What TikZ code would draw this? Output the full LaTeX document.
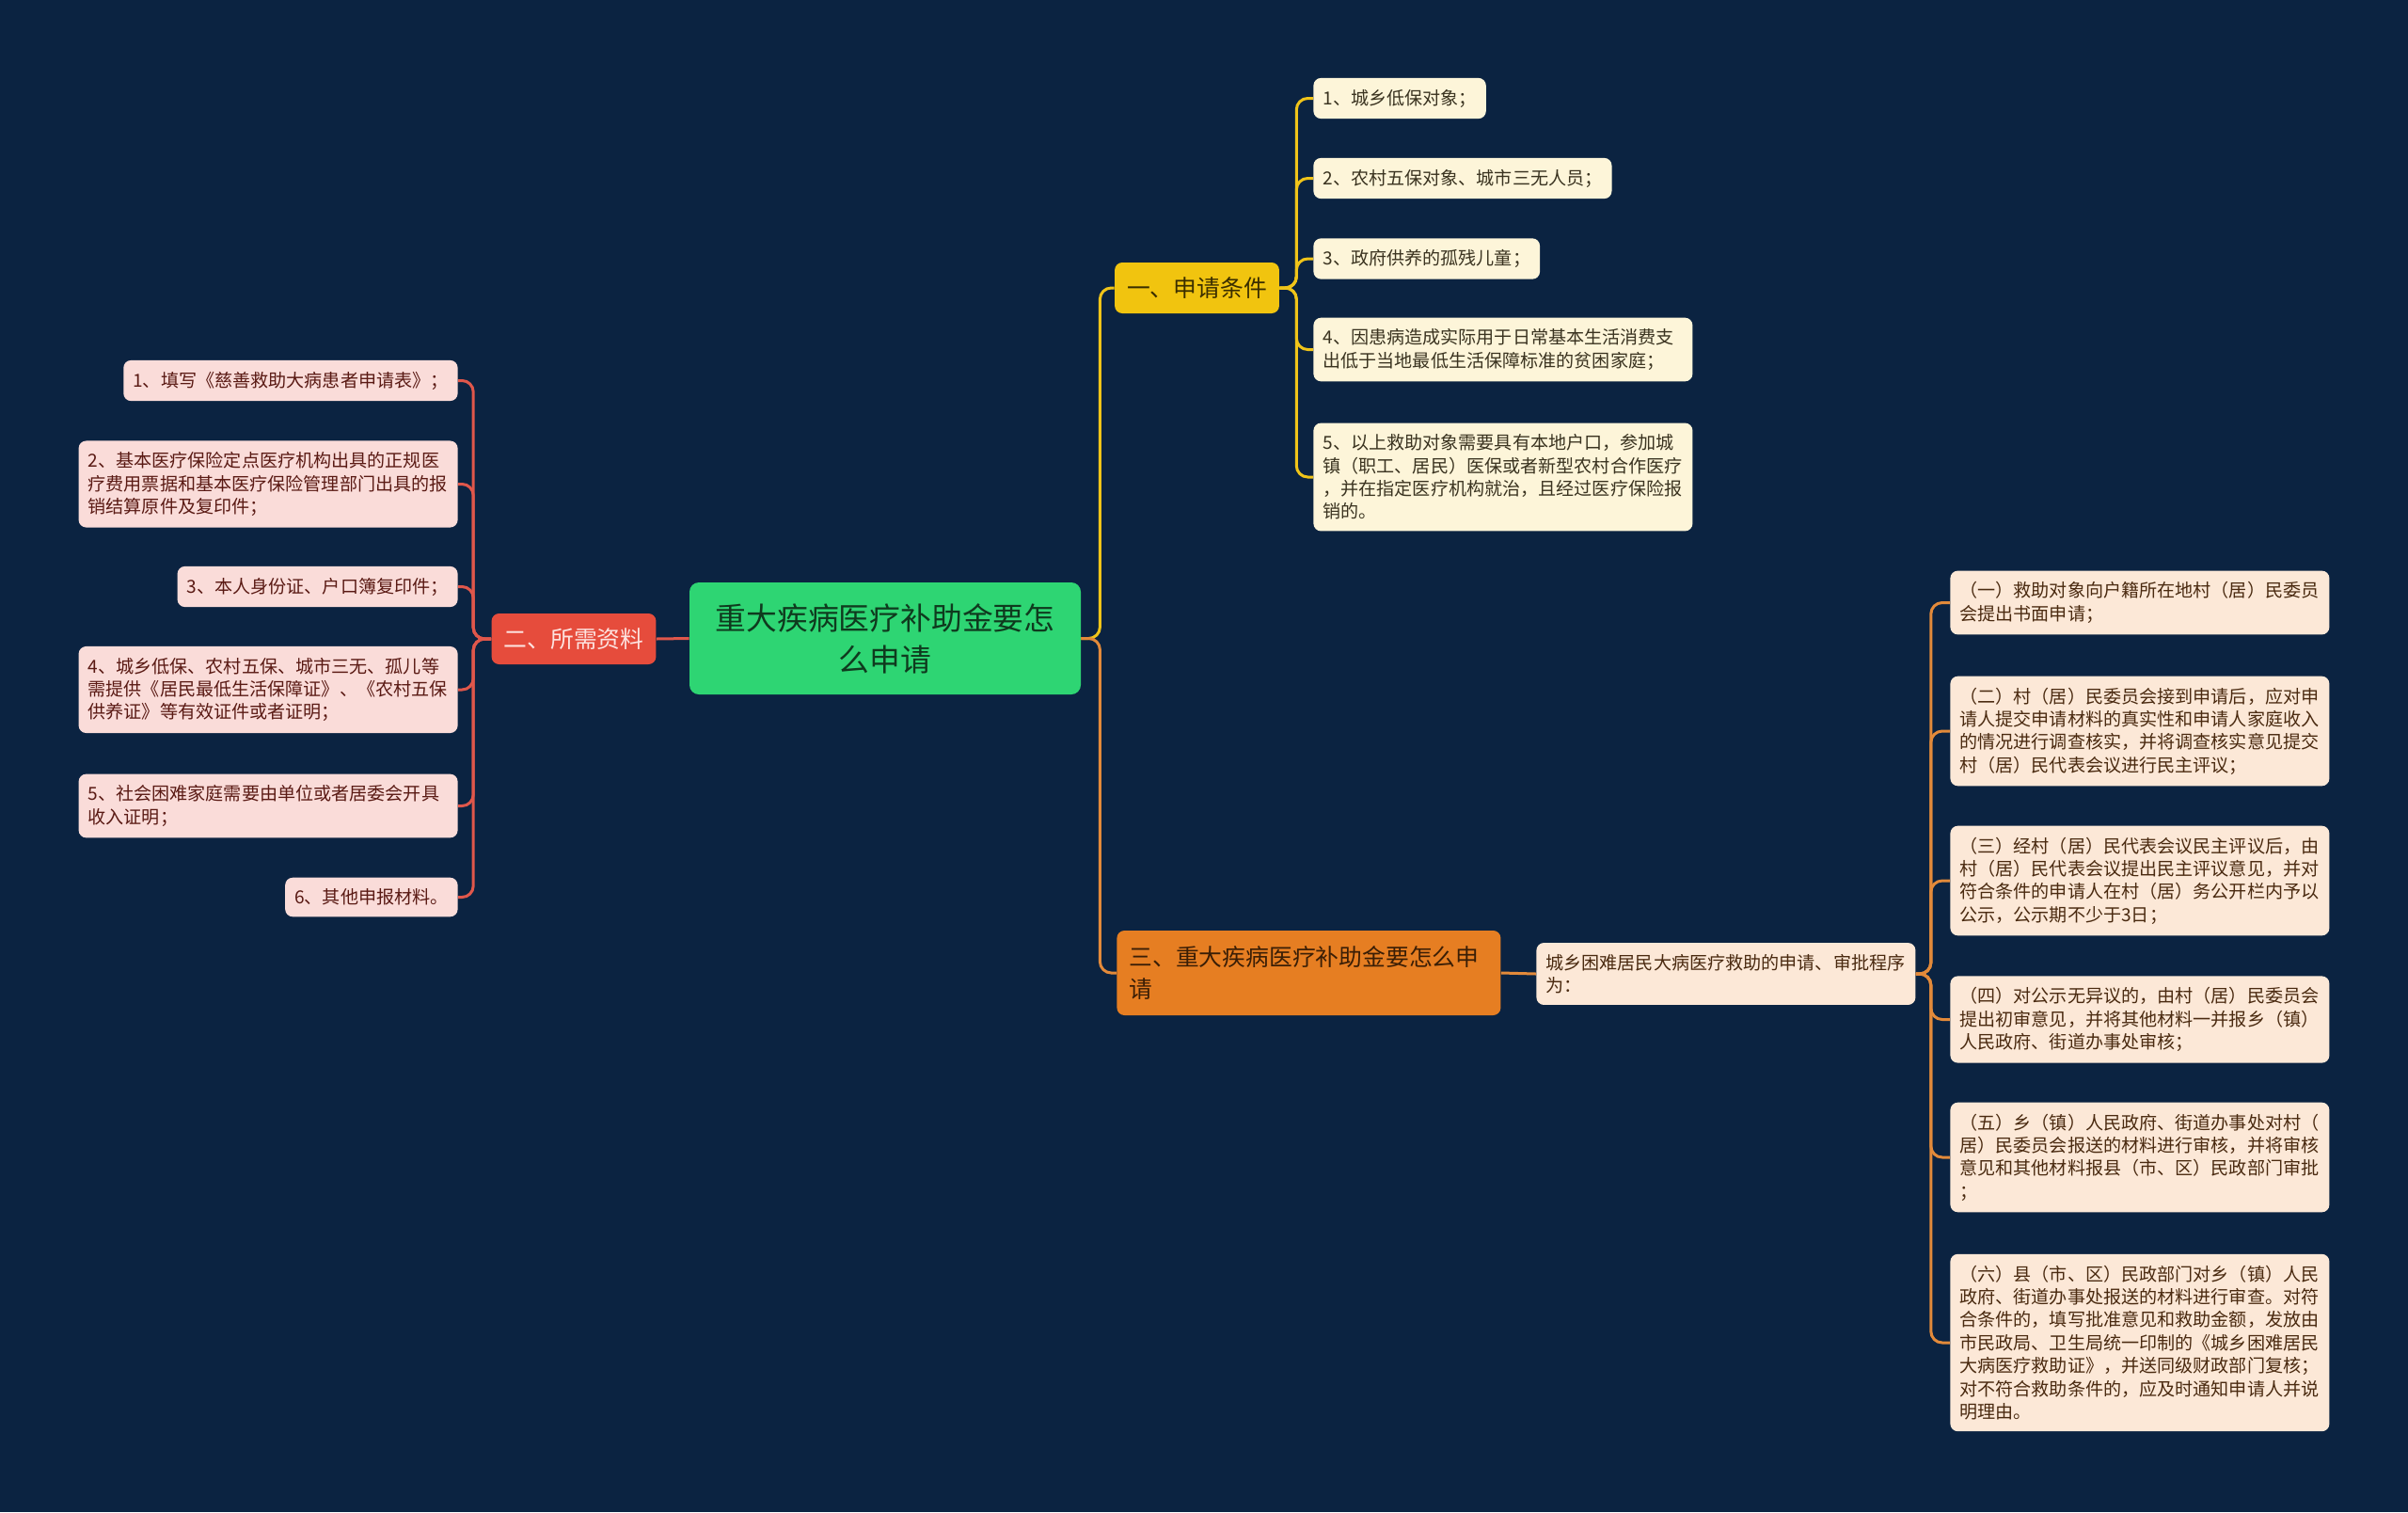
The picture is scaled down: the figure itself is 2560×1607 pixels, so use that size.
\documentclass[tikz,border=0pt]{standalone}
\usepackage{fontspec}
\setmainfont{Noto Sans CJK SC}
\usepackage{tikz}

\definecolor{bgc}{HTML}{0B2341}
\definecolor{ctrfill}{HTML}{2ED573}
\definecolor{ctrtext}{HTML}{0F3A1E}
\definecolor{redfill}{HTML}{E64C3C}
\definecolor{redtext}{HTML}{FDE3E0}
\definecolor{redleaf}{HTML}{FADCD9}
\definecolor{redleaftext}{HTML}{5A1A14}
\definecolor{redline}{HTML}{E0574B}
\definecolor{yelfill}{HTML}{F1C40F}
\definecolor{yeltext}{HTML}{3A2E00}
\definecolor{yelleaf}{HTML}{FDF5D9}
\definecolor{yelleaftext}{HTML}{3A3320}
\definecolor{yelline}{HTML}{F0C419}
\definecolor{orafill}{HTML}{E67E22}
\definecolor{oratext}{HTML}{3A1E06}
\definecolor{oraleaf}{HTML}{FCE8D7}
\definecolor{oraleaftext}{HTML}{4A2A10}
\definecolor{oraline}{HTML}{E38A3A}

\begin{document}
\begin{tikzpicture}[x=0.5pt,y=-0.5pt,
  box/.style={rounded corners=4pt,inner xsep=5pt,inner ysep=6pt,
    font=\fontsize{9.55}{12.2}\selectfont,align=left},
  wide/.style={text width=191.5pt},
  leafred/.style={box,fill=redleaf,text=redleaftext,anchor=east},
  leafyel/.style={box,fill=yelleaf,text=yelleaftext,anchor=west},
  leafora/.style={box,fill=oraleaf,text=oraleaftext,anchor=west},
  topic/.style={rounded corners=4pt,font=\fontsize{12.4}{17}\selectfont,
    inner xsep=6.5pt,minimum height=27pt},
  lred/.style={draw=redline,line width=1.5pt,rounded corners=6pt},
  lyel/.style={draw=yelline,line width=1.5pt,rounded corners=6pt},
  lora/.style={draw=oraline,line width=1.5pt,rounded corners=6pt}]
  % background
  \fill[bgc] (0,0) rectangle (2560,1607);
  % centre
  \node[rounded corners=5pt,fill=ctrfill,text=ctrtext,align=center,
    font=\fontsize{16.4}{22}\selectfont,minimum width=208pt,minimum height=59.5pt]
    (ctr) at (941,678.5) {重大疾病医疗补助金要怎\\么申请};
  % main topics
  \node[topic,fill=redfill,text=redtext,minimum width=86pt] (t2) at (610,679) {二、所需资料};
  \node[topic,fill=yelfill,text=yeltext,minimum width=85.5pt] (t1) at (1272.5,306) {一、申请条件};
  \node[topic,fill=orafill,text=oratext,anchor=west,align=left,text width=191pt,
    minimum height=45pt] (t3) at (1187,1034) {三、重大疾病医疗补助金要怎么申\\请};
  % left leaves
  \node[leafred] (l1) at (487,404.5) {1、填写《慈善救助大病患者申请表》；};
  \node[leafred,wide] (l2) at (487,514.5) {2、基本医疗保险定点医疗机构出具的正规医\\疗费用票据和基本医疗保险管理部门出具的报\\销结算原件及复印件；};
  \node[leafred] (l3) at (487,623.5) {3、本人身份证、户口簿复印件；};
  \node[leafred,wide] (l4) at (487,733) {4、城乡低保、农村五保、城市三无、孤儿等\\需提供《居民最低生活保障证》、《农村五保\\供养证》等有效证件或者证明；};
  \node[leafred,wide] (l5) at (487,856.5) {5、社会困难家庭需要由单位或者居委会开具\\收入证明；};
  \node[leafred] (l6) at (487,953.5) {6、其他申报材料。};
  % top right leaves
  \node[leafyel] (c1) at (1396,104.5) {1、城乡低保对象；};
  \node[leafyel] (c2) at (1396,189.5) {2、农村五保对象、城市三无人员；};
  \node[leafyel] (c3) at (1396,275) {3、政府供养的孤残儿童；};
  \node[leafyel,wide] (c4) at (1396,371.5) {4、因患病造成实际用于日常基本生活消费支\\出低于当地最低生活保障标准的贫困家庭；};
  \node[leafyel,wide] (c5) at (1396,507) {5、以上救助对象需要具有本地户口，参加城\\镇（职工、居民）医保或者新型农村合作医疗\\，并在指定医疗机构就治，且经过医疗保险报\\销的。};
  % procedure
  \node[leafora,wide] (s0) at (1633,1035) {城乡困难居民大病医疗救助的申请、审批程序\\为：};
  \node[leafora,wide] (r1) at (2073,640.5) {（一）救助对象向户籍所在地村（居）民委员\\会提出书面申请；};
  \node[leafora,wide] (r2) at (2073,777) {（二）村（居）民委员会接到申请后，应对申\\请人提交申请材料的真实性和申请人家庭收入\\的情况进行调查核实，并将调查核实意见提交\\村（居）民代表会议进行民主评议；};
  \node[leafora,wide] (r3) at (2073,936) {（三）经村（居）民代表会议民主评议后，由\\村（居）民代表会议提出民主评议意见，并对\\符合条件的申请人在村（居）务公开栏内予以\\公示，公示期不少于3日；};
  \node[leafora,wide] (r4) at (2073,1083.5) {（四）对公示无异议的，由村（居）民委员会\\提出初审意见，并将其他材料一并报乡（镇）\\人民政府、街道办事处审核；};
  \node[leafora,wide] (r5) at (2073,1230) {（五）乡（镇）人民政府、街道办事处对村（\\居）民委员会报送的材料进行审核，并将审核\\意见和其他材料报县（市、区）民政部门审批\\；};
  \node[leafora,wide] (r6) at (2073,1427) {（六）县（市、区）民政部门对乡（镇）人民\\政府、街道办事处报送的材料进行审查。对符\\合条件的，填写批准意见和救助金额，发放由\\市民政局、卫生局统一印制的《城乡困难居民\\大病医疗救助证》，并送同级财政部门复核；\\对不符合救助条件的，应及时通知申请人并说\\明理由。};
  % connectors
  \draw[lred] (ctr.west) -- (t2.east);
  \foreach \i in {1,...,6} \draw[lred] (t2.west) -- ++(-19,0) |- (l\i.east);
  \draw[lyel] (ctr.east) -- ++(20,0) |- (t1.west);
  \foreach \i in {1,...,5} \draw[lyel] (t1.east) -- ++(18,0) |- (c\i.west);
  \draw[lora] (ctr.east) -- ++(20,0) |- (t3.west);
  \draw[lora] (t3.east) -- (s0.west);
  \foreach \i in {1,...,6} \draw[lora] (s0.east) -- ++(16,0) |- (r\i.west);
\end{tikzpicture}
\end{document}
